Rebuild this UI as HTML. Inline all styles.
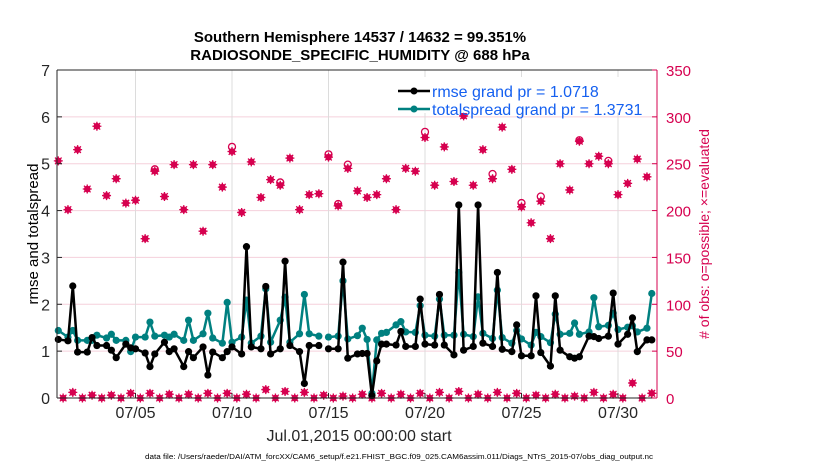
<!DOCTYPE html>
<html><head><meta charset="utf-8">
<style>
html,body{margin:0;padding:0;background:#fff;}
svg{display:block;font-family:"Liberation Sans",sans-serif;}
</style></head>
<body>
<svg id="chart" width="830" height="470" viewBox="0 0 830 470" xmlns="http://www.w3.org/2000/svg">
<rect width="830" height="470" fill="#fff"/>
<text x="360" y="42" font-size="15" font-weight="bold" text-anchor="middle">Southern Hemisphere 14537 / 14632 = 99.351%</text>
<text x="360" y="60" font-size="15" font-weight="bold" text-anchor="middle">RADIOSONDE_SPECIFIC_HUMIDITY @ 688 hPa</text>
<g id="grid"></g>
<g id="marks"></g>
<g id="axes"></g>
<text transform="translate(38,234) rotate(-90)" font-size="15" text-anchor="middle">rmse and totalspread</text>
<text transform="translate(709,234) rotate(-90)" font-size="14" text-anchor="middle" fill="#d6004f"># of obs: o=possible; ×=evaluated</text>
<text x="359" y="441" font-size="16" text-anchor="middle" fill="#262626">Jul.01,2015 00:00:00 start</text>
<text x="145" y="459" font-size="7" textLength="508" lengthAdjust="spacingAndGlyphs">data file: /Users/raeder/DAI/ATM_forcXX/CAM6_setup/f.e21.FHIST_BGC.f09_025.CAM6assim.011/Diags_NTrS_2015-07/obs_diag_output.nc</text>
<g>
<rect x="395" y="77" width="250" height="36" fill="#fff"/>
<line x1="398" y1="91" x2="430" y2="91" stroke="#000" stroke-width="2.5"/>
<circle cx="414" cy="91" r="3.5" fill="#000"/>
<text x="432" y="97" font-size="16" fill="#1560f0">rmse grand pr = 1.0718</text>
<line x1="398" y1="109" x2="430" y2="109" stroke="#008080" stroke-width="2.5"/>
<circle cx="414" cy="109" r="3.5" fill="#008080"/>
<text x="432" y="115" font-size="16" fill="#1560f0">totalspread grand pr = 1.3731</text>
</g>
</svg>
<script>
// slot = 6-hour step from Jul 01 00:00
const rmseSlots = [0,2,3,4,6,7,8,10,11,12,14,15,16,18,19,20,22,23,24,26,27,28,30,31,32,34,35,36,38,39,40,42,43,44,46,47,48,50,51,52,54,56,58,59,60,62,63,64,65,66,67,68,70,71,72,74,75,76,78,79,80,82,83,84,86,87,88,90,91,92,94,95,96,98,99,100,102,103,104,106,107,108,110,111,112,114,115,116,118,119,120,122,123];
const rmseValues = [1.25,1.22,2.39,0.98,0.98,1.29,1.12,1.12,1.02,0.86,1.15,1.07,1.05,0.96,0.67,0.94,1.19,0.99,1.05,0.67,0.99,0.86,1.09,0.49,0.98,0.86,0.99,1.09,0.94,3.23,1.09,1.05,2.38,0.94,1.05,2.92,1.12,0.99,0.31,1.12,1.12,1.05,1.05,2.90,0.85,0.94,0.95,0.95,0.05,0.79,1.15,1.15,1.13,1.42,1.10,1.10,2.11,1.15,1.13,2.21,1.13,0.92,4.12,1.02,1.10,4.12,1.17,1.10,2.68,1.04,0.99,1.56,0.90,0.90,2.18,0.97,0.68,2.18,1.02,0.88,0.85,0.88,1.32,1.31,1.27,1.32,2.24,1.15,1.36,1.71,0.99,1.24,1.24];
const spreadValues = [1.44,1.30,1.44,1.23,1.23,1.23,1.34,1.28,1.36,1.23,1.23,0.99,1.30,1.30,1.62,1.32,1.34,1.30,1.36,1.23,1.66,1.23,1.37,1.81,1.28,1.17,2.04,1.19,1.30,2.09,1.17,1.32,2.33,1.19,1.66,2.15,1.19,1.37,2.21,1.37,1.32,1.30,1.32,2.50,1.26,1.33,1.49,1.25,0.10,1.24,1.38,1.40,1.56,1.63,1.41,1.40,1.97,1.34,1.32,2.11,1.34,1.34,2.68,1.36,1.31,2.16,1.38,1.27,2.30,1.29,1.17,1.44,1.26,1.13,1.40,1.31,1.18,1.79,1.36,1.38,1.60,1.36,1.41,2.14,1.52,1.55,1.81,1.46,1.51,1.54,1.41,1.49,2.23];
const evalMain = [253,201,265,223,290,216,234,208,211,170,242,215,249,201,249,178,249,225,263,198,252,214,233,227,256,201,217,218,257,205,245,221,214,217,234,201,245,242,278,227,268,231,301,227,265,234,289,244,204,187,210,170,250,222,274,250,258,250,217,229,255,236];
const possMain = [253,201,265,223,290,216,234,208,211,170,244,215,249,201,249,178,249,225,268,198,252,214,233,230,256,201,217,218,260,207,249,221,214,217,234,201,245,242,284,227,268,231,301,227,265,239,289,244,208,187,215,170,250,222,275,250,258,253,217,229,255,236];
const evalLate = [6,3,3,5,5,4,4,5,5,4,9,7,6,3,2,4,5,4,5,6,7,4,6,5,3,4,2,6,4,16,5,3,6,2,4,4,3,6,2,4,6];
const leftTicks = [0,1,2,3,4,5,6,7];
const rightTicks = [0,50,100,150,200,250,300,350];
const dateTicks = ["07/05","07/10","07/15","07/20","07/25","07/30"];
const dateTickDays = [4,9,14,19,24,29];

const NS="http://www.w3.org/2000/svg";
const L=57,R=657,T=70,B=398;
const xDay=d=>58.3+d*19.3;
const xSlot=s=>xDay(s/4);
const yL=v=>B-(v/7)*(B-T);
const yR=v=>B-(v/350)*(B-T);
function mk(tag,attrs,parent){const e=document.createElementNS(NS,tag);for(const k in attrs)e.setAttribute(k,attrs[k]);parent.appendChild(e);return e;}
const grid=document.getElementById('grid'),marks=document.getElementById('marks'),axes=document.getElementById('axes');

leftTicks.forEach(v=>{ if(v>0&&v<7){const g=mk('line',{x1:L,x2:R,y1:yL(v),y2:yL(v),stroke:'#f5d0dc','stroke-width':1},grid);

}});
dateTickDays.forEach(d=>{const g=mk('line',{x1:xDay(d),x2:xDay(d),y1:T,y2:B,stroke:'#dcdcdc','stroke-width':1},grid);

});

const zeroSlots=[];for(let s=1;s<124;s+=4)zeroSlots.push(s);
const lateSlots=[];for(let s=3;s<124;s+=4)lateSlots.push(s);
function obsMarker(x,y){
  const g=mk('g',{},marks);
  
  
  mk('circle',{cx:x,cy:y,r:3.3,fill:'#d6004f'},g);
  mk('path',{d:`M${x-4.5} ${y}H${x+4.5}M${x} ${y-4.5}V${y+4.5}M${x-3.3} ${y-3.3}L${x+3.3} ${y+3.3}M${x-3.3} ${y+3.3}L${x+3.3} ${y-3.3}`,stroke:'#d6004f','stroke-width':1.3},g);
}
function possMarker(x,y){
  const c=mk('circle',{cx:x,cy:y,r:3.5,fill:'none',stroke:'#d6004f','stroke-width':1.3},marks);
  
  
}
possMain.forEach((v,i)=>{if(v!==evalMain[i])possMarker(xSlot(i*2),yR(v));});
evalMain.forEach((v,i)=>obsMarker(xSlot(i*2),yR(v)));
zeroSlots.forEach(s=>obsMarker(xSlot(s),yR(0)));
lateSlots.forEach((s,i)=>obsMarker(xSlot(s),yR(evalLate[i])));

function series(vals,color,name){
  let d='';let prev=-9;
  rmseSlots.forEach((s,i)=>{const x=xSlot(s),y=yL(vals[i]);d+=(s-prev>1&&!(s-prev===2&&s%4===2)?'M':'L')+x.toFixed(1)+' '+y.toFixed(1);prev=s;});
  const p=mk('path',{d:d,fill:'none',stroke:color,'stroke-width':2.5,'stroke-linejoin':'round'},marks);
  
  
  rmseSlots.forEach((s,i)=>{const c=mk('circle',{cx:xSlot(s),cy:yL(vals[i]),r:3.6,fill:color},marks);
  
  });
}
series(spreadValues,'#008080','totalspread');
series(rmseValues,'#000','rmse');

mk('line',{x1:L,x2:L,y1:T,y2:B,stroke:'#262626','stroke-width':1},axes);
mk('line',{x1:L,x2:R,y1:B,y2:B,stroke:'#262626','stroke-width':1},axes);
mk('line',{x1:L,x2:R,y1:T,y2:T,stroke:'#262626','stroke-width':1},axes);
mk('line',{x1:R,x2:R,y1:T,y2:B,stroke:'#d6004f','stroke-width':1},axes);
leftTicks.forEach(v=>{const t=mk('text',{x:L-7,y:yL(v)+6,'font-size':16,'text-anchor':'end',fill:'#262626'},axes);t.textContent=v;


mk('line',{x1:L,x2:L+5,y1:yL(v),y2:yL(v),stroke:'#262626'},axes);});
rightTicks.forEach(v=>{const t=mk('text',{x:R+9,y:yR(v)+6,'font-size':15,fill:'#d6004f'},axes);t.textContent=v;


mk('line',{x1:R-5,x2:R,y1:yR(v),y2:yR(v),stroke:'#d6004f'},axes);});
dateTicks.forEach((lab,i)=>{const x=xDay(dateTickDays[i]);const t=mk('text',{x:x,y:B+20,'font-size':16,'text-anchor':'middle',fill:'#262626'},axes);t.textContent=lab;


mk('line',{x1:x,x2:x,y1:B-5,y2:B,stroke:'#262626'},axes);});
</script>
</body></html>
